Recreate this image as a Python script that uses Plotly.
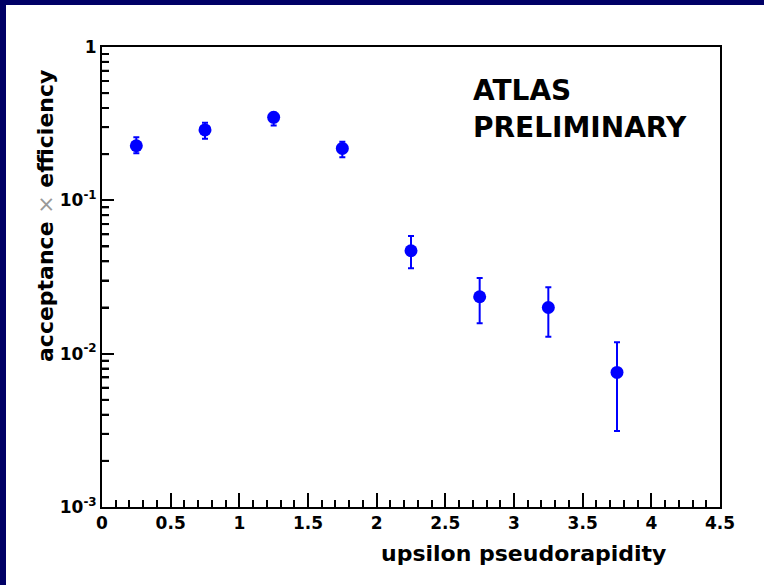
import plotly.graph_objects as go

# Data
eta = [0.25, 0.75, 1.25, 1.75, 2.25, 2.75, 3.25, 3.75]
acc_eff = [0.227, 0.288, 0.348, 0.218, 0.0469, 0.0235, 0.0200, 0.00755]
upper = [0.258, 0.321, 0.372, 0.241, 0.0585, 0.0311, 0.0271, 0.01186]
lower = [0.203, 0.252, 0.308, 0.191, 0.0360, 0.0158, 0.0129, 0.00313]

y_tickvals = [1e-3, 1e-2, 1e-1, 1]
y_ticktext = ["10<sup>-3</sup>", "10<sup>-2</sup>", "10<sup>-1</sup>", "1"]
y_minor_vals = [d * 10.0 ** e for e in (-3, -2, -1) for d in range(2, 10)]

err_plus = [u - v for u, v in zip(upper, acc_eff)]
err_minus = [v - l for v, l in zip(acc_eff, lower)]

W, H = 764, 585
ML, MR, MT, MB = 102, 44, 47, 78
PW, PH = W - ML - MR, H - MT - MB

def px_x(p):
    return (p - ML) / PW

def px_y(p):
    return 1 - (p - MT) / PH

FONT = "DejaVu Sans, Liberation Sans, Arial, sans-serif"
BLUE = "#0000ff"
NAVY = "#000066"

fig = go.Figure()
# invisible copy on the overlay axis that carries the minor log ticks
fig.add_trace(go.Scatter(
    x=eta, y=acc_eff, yaxis="y2", mode="markers",
    marker=dict(opacity=0), hoverinfo="skip", showlegend=False,
))
fig.add_trace(go.Scatter(
    x=eta, y=acc_eff, mode="markers",
    marker=dict(color=BLUE, size=13, symbol="circle"),
    error_y=dict(type="data", symmetric=False, array=err_plus, arrayminus=err_minus,
                 color=BLUE, thickness=2, width=3),
    showlegend=False,
))

fig.update_layout(
    width=W, height=H,
    margin=dict(l=ML, r=MR, t=MT, b=MB),
    paper_bgcolor="white", plot_bgcolor="white",
    font=dict(family=FONT, color="black"),
    xaxis=dict(
        range=[0, 4.5], dtick=0.5, tick0=0,
        showgrid=False, zeroline=False,
        showline=True, linecolor="black", linewidth=2, mirror=True,
        ticks="inside", ticklen=14, tickwidth=2, tickcolor="black",
        tickfont=dict(family=FONT, size=17, weight="bold", color="black"),
        minor=dict(ticks="inside", ticklen=7, tickwidth=2, tickcolor="black", dtick=0.1, showgrid=False),
    ),
    yaxis=dict(
        type="log", range=[-3, 0],
        tickmode="array", tickvals=y_tickvals, ticktext=y_ticktext,
        showgrid=False, zeroline=False,
        showline=True, linecolor="black", linewidth=2, mirror=True,
        ticks="inside", ticklen=12, tickwidth=2, tickcolor="black",
        tickfont=dict(family=FONT, size=17, weight="bold", color="black"),
    ),
    yaxis2=dict(
        type="log", range=[-3, 0], overlaying="y", side="left",
        tickmode="array", tickvals=y_minor_vals, showticklabels=False,
        showgrid=False, zeroline=False, showline=False,
        ticks="inside", ticklen=7, tickwidth=2, tickcolor="black",
    ),
)

# minor y tick marks also as short lines placed through the y scale
for v in y_minor_vals:
    fig.add_shape(type="line", xref="paper", yref="y",
                  x0=0, x1=7 / PW, y0=v, y1=v,
                  line=dict(color="black", width=2), layer="above")

# Navy frame on top and left edges
fig.add_shape(type="rect", xref="paper", yref="paper",
              x0=px_x(0), x1=px_x(W), y0=px_y(0), y1=px_y(5),
              fillcolor=NAVY, line=dict(width=0), layer="above")
fig.add_shape(type="rect", xref="paper", yref="paper",
              x0=px_x(0), x1=px_x(6), y0=px_y(0), y1=px_y(H),
              fillcolor=NAVY, line=dict(width=0), layer="above")

# Axis titles
fig.add_annotation(
    xref="paper", yref="paper", x=px_x(668), y=px_y(553),
    xanchor="right", yanchor="middle", showarrow=False,
    text="upsilon pseudorapidity",
    font=dict(family=FONT, size=22, weight="bold", color="black"),
)
fig.add_annotation(
    xref="paper", yref="paper", x=px_x(45), y=px_y(68),
    xanchor="center", yanchor="top", showarrow=False, textangle=-90,
    text="acceptance <span style='font-weight:normal;color:#999999'>×</span> efficiency",
    font=dict(family=FONT, size=22, weight="bold", color="black"),
)

# ATLAS label
fig.add_annotation(
    xref="paper", yref="paper", x=px_x(471), y=px_y(90),
    xanchor="left", yanchor="middle", showarrow=False,
    text="ATLAS",
    font=dict(family=FONT, size=28, weight="bold", color="black"),
)
fig.add_annotation(
    xref="paper", yref="paper", x=px_x(471), y=px_y(128),
    xanchor="left", yanchor="middle", showarrow=False,
    text="PRELIMINARY",
    font=dict(family=FONT, size=28, weight="bold", color="black"),
)

fig.write_html("out.html")
